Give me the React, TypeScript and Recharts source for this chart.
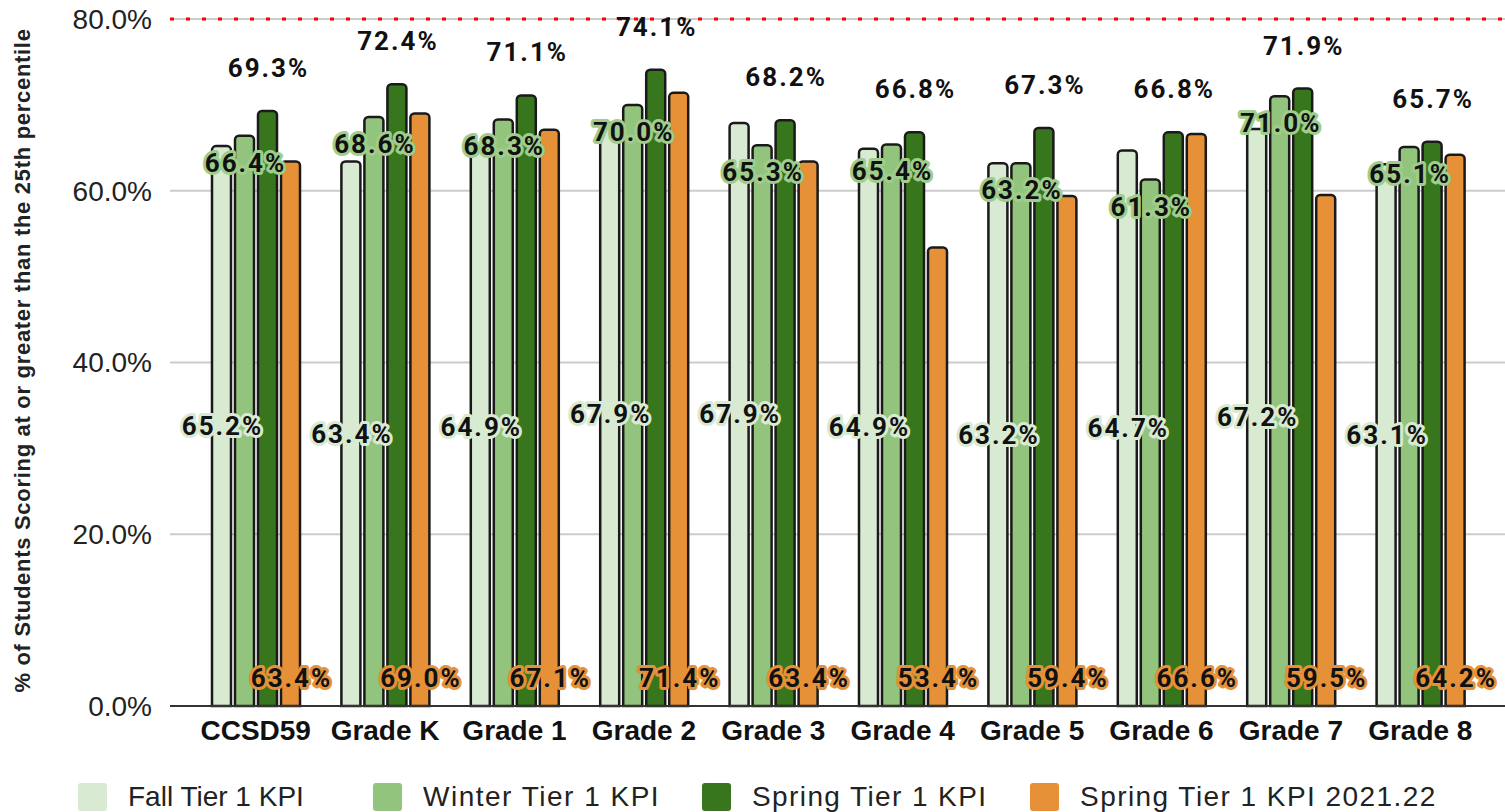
import React from 'react';
import { BarChart, Bar, XAxis, YAxis, CartesianGrid, ReferenceLine, LabelList, Legend, Label } from 'recharts';

const categories = ['CCSD59', 'Grade K', 'Grade 1', 'Grade 2', 'Grade 3', 'Grade 4', 'Grade 5', 'Grade 6', 'Grade 7', 'Grade 8'];
const fallValues = [65.2, 63.4, 64.9, 67.9, 67.9, 64.9, 63.2, 64.7, 67.2, 63.1];
const winterValues = [66.4, 68.6, 68.3, 70.0, 65.3, 65.4, 63.2, 61.3, 71.0, 65.1];
const springValues = [69.3, 72.4, 71.1, 74.1, 68.2, 66.8, 67.3, 66.8, 71.9, 65.7];
const spring2122Values = [63.4, 69.0, 67.1, 71.4, 63.4, 53.4, 59.4, 66.6, 59.5, 64.2];
const yTicks = [0, 20, 40, 60, 80];
const targetValue = 80;
const seriesKeys = ['fall', 'winter', 'spring', 'spring2122'];
const seriesNames = ['Fall Tier 1 KPI', 'Winter Tier 1 KPI', 'Spring Tier 1 KPI', 'Spring Tier 1 KPI 2021.22'];
const seriesColors = ['#d9ead3', '#93c47d', '#38761d', '#e69138'];
const labelModes = ['center', 'insideTop', 'top', 'bottom'];
const labelHalos = ['#d9ead3', '#9fcd8b', '', '#e69138'];
const yAxisTitle = '% of Students Scoring at or greater than the 25th percentile';

const data = categories.map((name, i) => ({
  name,
  fall: fallValues[i],
  winter: winterValues[i],
  spring: springValues[i],
  spring2122: spring2122Values[i],
}));

const legendLefts = [78, 373, 702, 1030];
const legendSpacing = [0, 1.5, 1.4, 1.45];

const makeLabel = (mode: string, halo: string) => (props: any) => {
  const x = Number(props.x);
  const y = Number(props.y);
  const w = Number(props.width);
  const h = Number(props.height);
  const v = Number(props.value);
  const cx = x + w / 2;
  let cy = y + h / 2;
  if (mode === 'insideTop') cy = y + 27;
  else if (mode === 'top') cy = y - 43;
  else if (mode === 'bottom') cy = y + h - 28;
  return (
    <text
      x={cx + 1}
      y={cy}
      textAnchor="middle"
      dominantBaseline="central"
      fontFamily="Roboto, sans-serif"
      fontWeight={700}
      fontSize={26}
      letterSpacing={2}
      fill="#111"
      stroke={halo || 'none'}
      strokeWidth={halo ? 6 : 0}
      strokeLinejoin="round"
      paintOrder="stroke"
    >
      {v.toFixed(1)}%
    </text>
  );
};

const renderLegend = () => (
  <div style={{ position: 'relative', height: 40, width: 1505 }}>
    {seriesNames.map((n, i) => (
      <div
        key={n}
        style={{ position: 'absolute', left: legendLefts[i], top: 0, height: 40, display: 'flex', alignItems: 'center' }}
      >
        <span style={{ display: 'inline-block', width: 29, height: 28, background: seriesColors[i], borderRadius: 3, marginRight: 21 }} />
        <span
          style={{
            fontSize: 28,
            letterSpacing: legendSpacing[i],
            fontFamily: '"Liberation Sans", Arial, sans-serif',
            color: '#222',
            whiteSpace: 'nowrap',
          }}
        >
          {n}
        </span>
      </div>
    ))}
  </div>
);

const renderYTitle = (props: any) => {
  const vb = props.viewBox || { x: 0, y: 0, width: 0, height: 0 };
  const cx = vb.x + 22;
  const cy = vb.y + vb.height / 2 - 2;
  return (
    <text
      x={cx}
      y={cy}
      transform={`rotate(-90 ${cx} ${cy})`}
      textAnchor="middle"
      dominantBaseline="central"
      fontFamily='"Liberation Sans", Arial, sans-serif'
      fontWeight={700}
      fontSize={22}
      letterSpacing={0.7}
      fill="#222"
    >
      {yAxisTitle}
    </text>
  );
};

export default function App() {
  return (
    <div style={{ position: 'absolute', left: 0, top: 0, width: 1505, height: 812, background: '#fff' }}>
      <BarChart width={1505} height={812} data={data} margin={{ top: 19, right: 0, left: 0, bottom: 21 }} barSize={19} barGap={4}>
        <CartesianGrid vertical={false} stroke="#cccccc" strokeWidth={2} />
        <XAxis
          dataKey="name"
          height={45}
          padding={{ left: 21, right: 20 }}
          tickSize={0}
          tickLine={false}
          tickMargin={14}
          axisLine={{ stroke: '#333', strokeWidth: 2 }}
          tick={{ fontSize: 28, fontWeight: 700, fill: '#111', fontFamily: '"Liberation Sans", Arial, sans-serif' }}
        />
        <XAxis xAxisId="labels" dataKey="name" hide padding={{ left: 21, right: 20 }} />
        <YAxis
          width={170}
          domain={[0, 80]}
          ticks={yTicks}
          axisLine={false}
          tickLine={false}
          tickSize={0}
          tickMargin={18}
          tickFormatter={(v: number) => `${v.toFixed(1)}%`}
          tick={{ fontSize: 28, fill: '#222', fontFamily: '"Liberation Sans", Arial, sans-serif' }}
        >
          <Label content={renderYTitle} />
        </YAxis>
        <ReferenceLine y={targetValue} stroke="#ff0000" strokeWidth={3} strokeDasharray="4 12" />
        {seriesKeys.map((k, i) => (
          <Bar
            key={k}
            dataKey={k}
            name={seriesNames[i]}
            fill={seriesColors[i]}
            stroke="#1a1a1a"
            strokeWidth={2.5}
            radius={[4, 4, 0, 0]}
            isAnimationActive={false}
          />
        ))}
        {seriesKeys.map((k, i) => (
          <Bar
            key={`lbl-${k}`}
            xAxisId="labels"
            dataKey={k}
            fill="transparent"
            stroke="none"
            legendType="none"
            isAnimationActive={false}
          >
            <LabelList dataKey={k} content={makeLabel(labelModes[i], labelHalos[i])} />
          </Bar>
        ))}
        <Legend verticalAlign="bottom" content={renderLegend} wrapperStyle={{ left: 0, top: 777, bottom: 'auto', width: 1505 }} />
      </BarChart>
    </div>
  );
}
